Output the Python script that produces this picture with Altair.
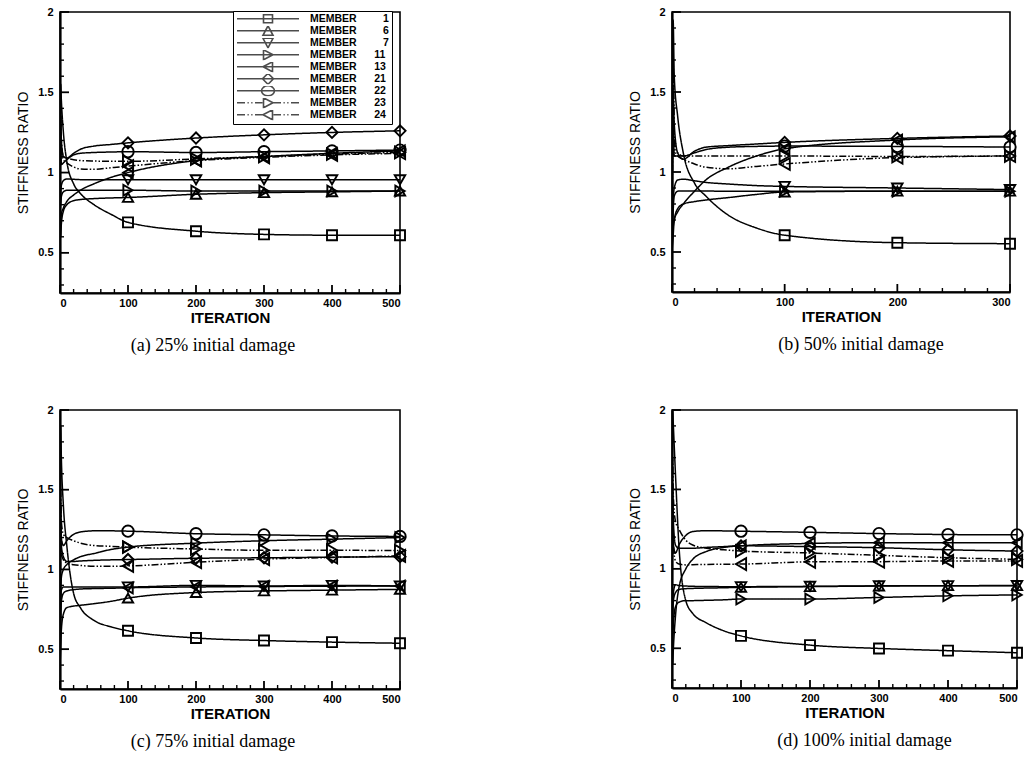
import altair as alt
import pandas as pd

# ---------------- data ----------------
MEMBERS = ["1", "6", "7", "11", "13", "21", "22", "23", "24"]
MARKER_ITERS = [100, 200, 300, 400, 500]

ITER_A = [0, 1, 2, 5, 10, 20, 30, 50, 75, 100, 200, 300, 400, 500]
PANEL_A = {
    "1":  [0.75, 1.55, 1.45, 1.25, 1.07, 0.93, 0.87, 0.80, 0.74, 0.69, 0.635, 0.615, 0.61, 0.61],
    "6":  [0.75, 0.60, 0.68, 0.76, 0.80, 0.825, 0.832, 0.838, 0.842, 0.845, 0.865, 0.875, 0.88, 0.885],
    "7":  [0.75, 0.85, 0.92, 0.95, 0.96, 0.958, 0.956, 0.955, 0.955, 0.955, 0.955, 0.955, 0.955, 0.955],
    "11": [0.75, 0.80, 0.85, 0.88, 0.89, 0.89, 0.89, 0.89, 0.89, 0.89, 0.885, 0.885, 0.885, 0.885],
    "13": [0.75, 0.70, 0.74, 0.78, 0.82, 0.86, 0.89, 0.93, 0.97, 1.00, 1.075, 1.10, 1.12, 1.135],
    "21": [0.75, 1.35, 1.20, 1.10, 1.09, 1.12, 1.145, 1.165, 1.175, 1.185, 1.215, 1.235, 1.25, 1.26],
    "22": [0.75, 1.20, 1.05, 1.06, 1.08, 1.11, 1.12, 1.125, 1.128, 1.13, 1.125, 1.13, 1.135, 1.14],
    "23": [0.75, 1.40, 1.20, 1.10, 1.09, 1.08, 1.075, 1.072, 1.07, 1.07, 1.085, 1.10, 1.115, 1.125],
    "24": [0.75, 1.30, 1.15, 1.08, 1.06, 1.035, 1.022, 1.02, 1.03, 1.04, 1.075, 1.095, 1.11, 1.12],
}

ITER_B = [0, 1, 2, 5, 10, 20, 30, 50, 75, 100, 200, 300]
PANEL_B = {
    "1":  [0.50, 1.95, 1.60, 1.35, 1.12, 0.93, 0.85, 0.73, 0.65, 0.605, 0.558, 0.552],
    "6":  [0.50, 0.60, 0.70, 0.77, 0.80, 0.815, 0.825, 0.84, 0.86, 0.875, 0.88, 0.88],
    "7":  [0.50, 0.80, 0.90, 0.95, 0.955, 0.945, 0.935, 0.925, 0.915, 0.91, 0.90, 0.89],
    "11": [0.50, 0.75, 0.85, 0.88, 0.882, 0.882, 0.881, 0.88, 0.88, 0.88, 0.88, 0.88],
    "13": [0.50, 0.65, 0.70, 0.75, 0.80, 0.88, 0.95, 1.03, 1.10, 1.145, 1.20, 1.22],
    "21": [0.50, 1.50, 1.30, 1.12, 1.08, 1.13, 1.155, 1.165, 1.175, 1.185, 1.21, 1.225],
    "22": [0.50, 1.30, 1.10, 1.10, 1.10, 1.12, 1.14, 1.155, 1.16, 1.162, 1.16, 1.156],
    "23": [0.50, 1.70, 1.20, 1.12, 1.10, 1.10, 1.10, 1.10, 1.10, 1.10, 1.097, 1.10],
    "24": [0.50, 1.60, 1.15, 1.10, 1.08, 1.05, 1.03, 1.02, 1.035, 1.05, 1.09, 1.10],
}

ITER_C = [0, 1, 2, 5, 10, 20, 30, 50, 75, 100, 200, 300, 400, 500]
PANEL_C = {
    "1":  [0.40, 1.90, 1.70, 1.40, 1.15, 0.85, 0.76, 0.68, 0.64, 0.615, 0.57, 0.554, 0.544, 0.537],
    "6":  [0.40, 0.50, 0.62, 0.72, 0.76, 0.77, 0.775, 0.785, 0.80, 0.82, 0.855, 0.865, 0.87, 0.875],
    "7":  [0.40, 0.80, 0.87, 0.89, 0.89, 0.89, 0.89, 0.89, 0.89, 0.89, 0.90, 0.896, 0.90, 0.896],
    "11": [0.40, 0.80, 0.95, 1.00, 1.03, 1.06, 1.08, 1.10, 1.125, 1.14, 1.165, 1.18, 1.19, 1.20],
    "13": [0.40, 0.70, 0.80, 0.85, 0.865, 0.873, 0.877, 0.88, 0.882, 0.885, 0.89, 0.893, 0.895, 0.896],
    "21": [0.40, 1.30, 1.15, 1.08, 1.05, 1.05, 1.053, 1.057, 1.06, 1.062, 1.07, 1.073, 1.077, 1.08],
    "22": [0.40, 1.40, 1.20, 1.15, 1.18, 1.22, 1.235, 1.242, 1.242, 1.24, 1.224, 1.217, 1.21, 1.207],
    "23": [0.40, 1.50, 1.30, 1.22, 1.20, 1.18, 1.165, 1.15, 1.145, 1.14, 1.128, 1.12, 1.12, 1.118],
    "24": [0.40, 1.20, 1.10, 1.06, 1.04, 1.03, 1.025, 1.02, 1.02, 1.022, 1.045, 1.065, 1.075, 1.085],
}

ITER_D = [0, 1, 2, 5, 10, 20, 30, 50, 75, 100, 200, 300, 400, 500]
PANEL_D = {
    "1":  [0.45, 2.00, 1.90, 1.60, 1.15, 0.80, 0.72, 0.66, 0.61, 0.578, 0.52, 0.499, 0.485, 0.472],
    "6":  [0.45, 0.70, 0.80, 0.85, 0.87, 0.875, 0.877, 0.879, 0.881, 0.884, 0.888, 0.892, 0.894, 0.894],
    "7":  [0.45, 0.75, 0.85, 0.90, 0.895, 0.892, 0.89, 0.889, 0.888, 0.888, 0.89, 0.893, 0.894, 0.895],
    "11": [0.45, 0.55, 0.65, 0.76, 0.79, 0.80, 0.80, 0.802, 0.805, 0.81, 0.81, 0.82, 0.83, 0.836],
    "13": [0.45, 0.40, 0.50, 0.70, 0.88, 1.00, 1.06, 1.11, 1.135, 1.145, 1.16, 1.165, 1.165, 1.165],
    "21": [0.45, 1.50, 1.30, 1.15, 1.13, 1.13, 1.13, 1.135, 1.14, 1.145, 1.14, 1.133, 1.12, 1.112],
    "22": [0.45, 1.30, 1.15, 1.10, 1.15, 1.21, 1.235, 1.24, 1.239, 1.237, 1.23, 1.222, 1.216, 1.214],
    "23": [0.45, 1.70, 1.45, 1.30, 1.25, 1.18, 1.15, 1.13, 1.12, 1.112, 1.10, 1.085, 1.07, 1.06],
    "24": [0.45, 1.40, 1.15, 1.05, 1.03, 1.025, 1.026, 1.028, 1.029, 1.03, 1.044, 1.045, 1.05, 1.05],
}

CAPTIONS = ["(a) 25% initial damage", "(b) 50% initial damage",
            "(c) 75% initial damage", "(d) 100% initial damage"]

X_MAJOR_500 = [0, 100, 200, 300, 400, 500]
X_MAJOR_300 = [0, 100, 200, 300]
X_MINOR_500 = [v for v in range(20, 500, 20) if v % 100]
X_MINOR_300 = [v for v in range(20, 300, 20) if v % 100]
Y_MAJOR = [0.5, 1.0, 1.5, 2.0]
Y_MINOR = [0.3, 0.4, 0.6, 0.7, 0.8, 0.9, 1.1, 1.2, 1.3, 1.4, 1.6, 1.7, 1.8, 1.9]
Y_DOMAIN = [0.25, 2.0]

# ---------------- styles ----------------
SANS = "Liberation Sans"
SERIF = "Liberation Serif"
SHAPES = ["square", "triangle-up", "triangle-down", "triangle-right", "triangle-left",
          "diamond", "circle", "triangle-right", "triangle-left"]
MSIZES = [100, 140, 140, 140, 140, 190, 190, 140, 140]
SOLID = [1, 0]
DASHDOT = [7, 2, 1.5, 2, 1.5, 2]
DASHES = [SOLID] * 7 + [DASHDOT] * 2

LINE_SOLID = "M-6.2,0H6.2"
LINE_DASH = ("M-6.2,0H-4.6M-4.1,0H-3.85M-3.35,0H-3.1M-2.6,0H-1.1"
             "M1.1,0H2.6M3.1,0H3.35M3.85,0H4.1M4.6,0H6.2")
MARK_PATHS = [
    "M-0.9,-0.8H0.9V0.8H-0.9Z",
    "M0,-1L1,0.9H-1Z",
    "M0,1L1,-0.9H-1Z",
    "M1,0L-0.9,-1V1Z",
    "M-1,0L0.9,-1V1Z",
    "M0,-1.1L1.1,0L0,1.1L-1.1,0Z",
    "M1.3,0A1.3,1,0,1,1,-1.3,0A1.3,1,0,1,1,1.3,0Z",
    "M1,0L-0.9,-1V1Z",
    "M-1,0L0.9,-1V1Z",
]
LEGEND_PATHS = [(LINE_DASH if i >= 7 else LINE_SOLID) + p for i, p in enumerate(MARK_PATHS)]

NB = "\u00a0"


def panel(iters, vals, xmax, xmajor, xminor, width, height, caption, dx, kscale, legend=False):
    rows = []
    for m in MEMBERS:
        for it, v in zip(iters, vals[m]):
            rows.append({"member": m, "iteration": it, "value": v,
                         "marker": it in MARKER_ITERS})
    df = pd.DataFrame(rows)
    xs = alt.Scale(domain=[0, xmax], nice=False, zero=False)
    ys = alt.Scale(domain=Y_DOMAIN, nice=False, zero=False)
    base = alt.Chart(df)

    lines = base.mark_line(interpolate="monotone", color="black", strokeWidth=1.5,
                           clip=True).encode(
        x=alt.X("iteration:Q", scale=xs,
                axis=alt.Axis(values=xmajor, title="ITERATION", format="d")),
        y=alt.Y("value:Q", scale=ys,
                axis=alt.Axis(values=Y_MAJOR, format="~g", title="STIFFNESS RATIO",
                              titleFontWeight="normal")),
        strokeDash=alt.StrokeDash("member:N", scale=alt.Scale(domain=MEMBERS, range=DASHES),
                                  legend=None),
    )
    pts = base.transform_filter("datum.marker").mark_point(
        filled=False, color="black", strokeWidth=1.9, opacity=1).encode(
        x="iteration:Q", y="value:Q",
        shape=alt.Shape("member:N", scale=alt.Scale(domain=MEMBERS, range=SHAPES), legend=None),
        size=alt.Size("member:N", scale=alt.Scale(domain=MEMBERS, range=[s * kscale for s in MSIZES]),
                      legend=None),
    )
    xt1 = alt.Chart(pd.DataFrame({"iteration": xmajor})).mark_rule(color="black", strokeWidth=1.8).encode(
        x=alt.X("iteration:Q", scale=xs), y=alt.value(height), y2=alt.value(height - 8))
    xt2 = alt.Chart(pd.DataFrame({"iteration": xminor})).mark_rule(color="black", strokeWidth=1.4).encode(
        x=alt.X("iteration:Q", scale=xs), y=alt.value(height), y2=alt.value(height - 4))
    yt1 = alt.Chart(pd.DataFrame({"value": Y_MAJOR})).mark_rule(color="black", strokeWidth=1.8).encode(
        y=alt.Y("value:Q", scale=ys), x=alt.value(0), x2=alt.value(9))
    yt2 = alt.Chart(pd.DataFrame({"value": Y_MINOR})).mark_rule(color="black", strokeWidth=1.4).encode(
        y=alt.Y("value:Q", scale=ys), x=alt.value(0), x2=alt.value(4))

    layers = [lines, pts, xt1, xt2, yt1, yt2]
    if legend:
        leg = base.transform_filter("false").mark_point(filled=False, color="black").encode(
            x="iteration:Q", y="value:Q",
            shape=alt.Shape("member:N", scale=alt.Scale(domain=MEMBERS, range=LEGEND_PATHS),
                            legend=alt.Legend(
                                orient="none", legendX=173, legendY=-1, title=None,
                                padding=3, rowPadding=0, clipHeight=9.6, symbolSize=100,
                                symbolOffset=26, labelOffset=36,
                                symbolStrokeColor="black", symbolFillColor="white",
                                symbolStrokeWidth=1.6,
                                labelFont=SANS, labelFontWeight="bold", labelFontSize=10.5,
                                labelColor="black",
                                labelExpr=("'MEMBER' + (length(datum.label) < 2 ? '"
                                           + NB * 9 + "' : '" + NB * 6 + "') + datum.label"),
                                strokeColor="black", fillColor="white",
                            )),
        )
        layers.append(leg)

    return alt.layer(*layers).resolve_scale(shape="independent").properties(
        width=width, height=height,
        title=alt.TitleParams(caption, orient="bottom", anchor="middle", font=SERIF,
                              fontSize=18, fontWeight="normal", color="black",
                              dx=dx, offset=12),
    )


pa = panel(ITER_A, PANEL_A, 500, X_MAJOR_500, X_MINOR_500, 340, 281, CAPTIONS[0], -17, 1.0, legend=True)
pb = panel(ITER_B, PANEL_B, 300, X_MAJOR_300, X_MINOR_300, 338, 280, CAPTIONS[1], 20, 0.85)
pc = panel(ITER_C, PANEL_C, 500, X_MAJOR_500, X_MINOR_500, 340, 279, CAPTIONS[2], -17, 0.7)
pd_ = panel(ITER_D, PANEL_D, 500, X_MAJOR_500, X_MINOR_500, 345, 278, CAPTIONS[3], 20, 0.7)

chart = alt.concat(pa, pb, pc, pd_, columns=2, spacing=alt.RowColnumber(row=117, column=272),
                   bounds="flush")

chart = chart.configure(
    background="white", padding={"left": 15, "top": 5, "right": 5, "bottom": 5}
).configure_view(
    stroke="black", strokeWidth=1.6
).configure_axis(
    grid=False, domainColor="black", domainWidth=2.2, tickSize=0,
    labelFont=SANS, labelFontWeight="bold", labelFontSize=11, labelColor="black",
    titleFont=SANS, titleFontWeight="bold", titleFontSize=15, titleColor="black",
).configure_axisX(
    labelPadding=4, titlePadding=2,
).configure_axisY(
    labelPadding=7, titlePadding=7, titleFontSize=14,
)

chart.save("out.html", embed_options={"renderer": "svg", "actions": False})
